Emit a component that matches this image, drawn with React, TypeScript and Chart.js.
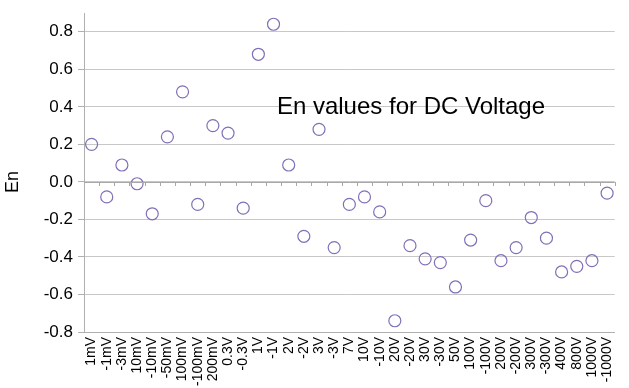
import React, { useEffect, useRef } from "react";
import { Chart, registerables } from "chart.js";

Chart.register(...registerables);

const categories = [
  "1mV", "-1mV", "-3mV", "10mV", "-10mV", "-50mV", "100mV", "-100mV", "200mV",
  "0.3V", "-0.3V", "1V", "-1V", "2V", "-2V", "3V", "-3V", "7V", "10V", "-10V",
  "20V", "-20V", "30V", "-30V", "50V", "100V", "-100V", "200V", "-200V",
  "300V", "-300V", "400V", "800V", "1000V", "-1000V",
];

const enValues = [
  0.2, -0.08, 0.09, -0.01, -0.17, 0.24, 0.48, -0.12, 0.3,
  0.26, -0.14, 0.68, 0.84, 0.09, -0.29, 0.28, -0.35, -0.12, -0.08, -0.16,
  -0.74, -0.34, -0.41, -0.43, -0.56, -0.31, -0.1, -0.42, -0.35,
  -0.19, -0.3, -0.48, -0.45, -0.42, -0.06,
];

const yTicks = [-0.8, -0.6, -0.4, -0.2, 0.0, 0.2, 0.4, 0.6, 0.8];

const chartTitle = "En values for DC Voltage";
const yTitle = "En";

const FONT = "'Liberation Sans', Arial, sans-serif";

const overlayPlugin = {
  id: "overlay",
  afterDraw(chart: any) {
    const { ctx, chartArea, scales } = chart;
    const x = scales.x;
    const y = scales.y;
    const y0 = Math.round(y.getPixelForValue(0));
    const step = x.getPixelForValue(1) - x.getPixelForValue(0);
    ctx.save();
    ctx.strokeStyle = "#a8a8a8";
    ctx.lineWidth = 1;
    ctx.beginPath();
    ctx.moveTo(chartArea.left, y0 + 0.5);
    ctx.lineTo(chartArea.right, y0 + 0.5);
    for (let i = 0; i < categories.length; i++) {
      const px = Math.round(x.getPixelForValue(i) + step / 2);
      ctx.moveTo(px + 0.5, y0);
      ctx.lineTo(px + 0.5, y0 + 4);
    }
    ctx.stroke();
    ctx.fillStyle = "#000";
    ctx.font = `24px ${FONT}`;
    ctx.textAlign = "center";
    ctx.textBaseline = "alphabetic";
    ctx.fillText(chartTitle, x.getPixelForValue(21) + 1, y.getPixelForValue(0.4) + 7);
    ctx.font = `18px ${FONT}`;
    ctx.translate(13, y0);
    ctx.rotate(-Math.PI / 2);
    ctx.textBaseline = "middle";
    ctx.fillText(yTitle, 0, 0);
    ctx.restore();
  },
};

export default function App() {
  const ref = useRef<HTMLCanvasElement | null>(null);
  useEffect(() => {
    document.body.style.margin = "0";
    const chart = new Chart(ref.current as HTMLCanvasElement, {
      type: "line",
      data: {
        labels: categories,
        datasets: [
          {
            data: enValues,
            showLine: false,
            pointRadius: 6,
            pointBorderWidth: 1.2,
            pointBorderColor: "#8070b8",
            pointBackgroundColor: "rgba(255,255,255,0)",
          },
        ],
      },
      options: {
        animation: false,
        responsive: false,
        layout: { padding: { top: 13, right: 7, left: 0, bottom: 0 } },
        plugins: { legend: { display: false }, tooltip: { enabled: false } },
        scales: {
          x: {
            offset: true,
            grid: { display: false, drawTicks: false },
            border: { display: true, color: "#b0b0b0" },
            afterFit: (scale: any) => {
              scale.height = 56;
            },
            ticks: {
              autoSkip: false,
              maxRotation: 90,
              minRotation: 90,
              padding: 5,
              color: "#000",
              font: { family: FONT, size: 14 },
            },
          },
          y: {
            min: -0.8,
            max: 0.9,
            afterBuildTicks: (axis: any) => {
              axis.ticks = yTicks.map((v) => ({ value: v }));
            },
            afterFit: (scale: any) => {
              scale.width = 84;
              scale.paddingTop = 0;
              scale.paddingBottom = 0;
            },
            grid: { color: "#c8c8c8", tickLength: 6, tickColor: "#b0b0b0" },
            border: { display: true, color: "#b0b0b0" },
            ticks: {
              color: "#000",
              padding: 5,
              font: { family: FONT, size: 17 },
              callback: (v: any) => Number(v).toFixed(1),
            },
          },
        },
      },
      plugins: [overlayPlugin],
    });
    return () => chart.destroy();
  }, []);
  return (
    <div style={{ width: 629, height: 388 }}>
      <canvas ref={ref} width={629} height={388} />
    </div>
  );
}
